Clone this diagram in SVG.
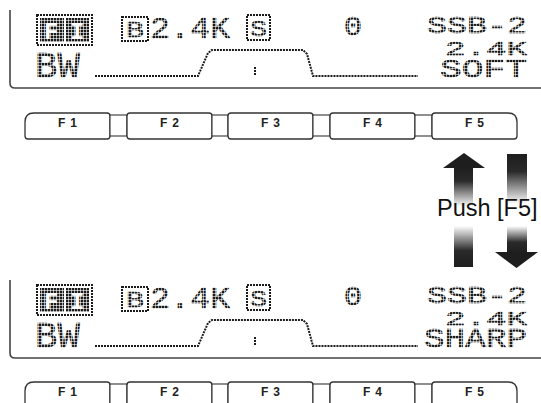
<svg xmlns="http://www.w3.org/2000/svg" width="541" height="403" viewBox="0 0 541 403">
<defs>
<pattern id="dots" width="3" height="3" patternUnits="userSpaceOnUse"><rect x="0" y="0" width="2.4" height="2.4" fill="#1a1a1a"/></pattern>
<linearGradient id="fadeDown" x1="0" y1="0" x2="0" y2="1"><stop offset="0" stop-color="#1e1e1e"/><stop offset="0.35" stop-color="#2a2a2a"/><stop offset="1" stop-color="#fff"/></linearGradient>
<linearGradient id="fadeUp" x1="0" y1="0" x2="0" y2="1"><stop offset="0" stop-color="#fff"/><stop offset="0.6" stop-color="#2a2a2a"/><stop offset="1" stop-color="#1e1e1e"/></linearGradient>
<style>
.frame{fill:none;stroke:#444;stroke-width:1.6}
.lcd{font-family:"Liberation Mono","DejaVu Sans Mono",monospace;font-weight:normal;fill:url(#dots);stroke:url(#dots);stroke-width:0.6}
.dotline{fill:none;stroke:#1a1a1a;stroke-width:2;stroke-dasharray:2 1}
.dotbox{fill:none;stroke:#1a1a1a;stroke-width:2;stroke-dasharray:2 1}
.key{fill:#fff;stroke:#333;stroke-width:1.3}
.link{fill:#fff;stroke:#333;stroke-width:1.1}
.klabel{font-family:"Liberation Sans",Arial,sans-serif;font-weight:bold;font-size:12px;fill:#222;letter-spacing:5px;text-anchor:middle}
.push{font-family:"Liberation Sans",Arial,sans-serif;font-size:23.5px;fill:#111}
</style>
<g id="lcd">
<path class="frame" d="M10,10 L10,83 Q10,88 15,88 L541,88"/>
<rect class="dotbox" x="37" y="15" width="55" height="30"/>
<rect x="40" y="18" width="24" height="24" fill="url(#dots)"/>
<rect x="66" y="18" width="23" height="24" fill="url(#dots)"/>
<text x="44" y="39" font-family="Liberation Mono,monospace" font-weight="bold" font-size="24" fill="#fff">F</text>
<text x="70" y="39" font-family="Liberation Mono,monospace" font-weight="bold" font-size="24" fill="#fff">I</text>
<rect class="dotbox" x="122" y="17" width="26" height="24"/>
<text class="lcd" x="126" y="37" font-size="22" textLength="18" lengthAdjust="spacingAndGlyphs">B</text>
<text class="lcd" x="150" y="38" font-size="30" textLength="80" lengthAdjust="spacingAndGlyphs">2.4K</text>
<rect class="dotbox" x="247" y="15" width="23" height="25"/>
<text class="lcd" x="250" y="36" font-size="22" textLength="17" lengthAdjust="spacingAndGlyphs">S</text>
<text class="lcd" x="344" y="35" font-size="28" textLength="18" lengthAdjust="spacingAndGlyphs">0</text>
<text class="lcd" x="427" y="33" font-size="24" textLength="100" lengthAdjust="spacingAndGlyphs">SSB-2</text>
<text class="lcd" x="445" y="55" font-size="20" textLength="82" lengthAdjust="spacingAndGlyphs">2.4K</text>
<text class="lcd" x="35" y="77" font-size="36" textLength="45" lengthAdjust="spacingAndGlyphs">BW</text>
<path class="dotline" d="M95,76 L198,76 L208,53 L212,50 L303,50 L307,54 L313,76 L418,76"/>
<path class="dotline" d="M255,67 L255,76"/>
</g>
<g id="keys">
<path class="key" d="M28,139 Q25,139 25,136 L25,122 Q25,113 34,113 L107,113 Q110,113 110,116 L110,136 Q110,139 107,139 Z"/>
<rect class="link" x="110" y="115" width="17" height="21"/>
<rect class="key" x="127" y="113" width="85" height="26" rx="3"/>
<rect class="link" x="212" y="115" width="16" height="21"/>
<rect class="key" x="228" y="113" width="85" height="26" rx="3"/>
<rect class="link" x="313" y="115" width="17" height="21"/>
<rect class="key" x="330" y="113" width="85" height="26" rx="3"/>
<rect class="link" x="415" y="115" width="17" height="21"/>
<path class="key" d="M435,139 Q432,139 432,136 L432,116 Q432,113 435,113 L508,113 Q517,113 517,122 L517,136 Q517,139 514,139 Z"/>
<text class="klabel" x="70" y="127">F1</text>
<text class="klabel" x="172" y="127">F2</text>
<text class="klabel" x="273" y="127">F3</text>
<text class="klabel" x="375" y="127">F4</text>
<text class="klabel" x="477" y="127">F5</text>
</g>
</defs>
<rect width="541" height="403" fill="#fff"/>
<g id="display-soft">
<use href="#lcd"/>
<text class="lcd" x="440" y="77" font-size="25" textLength="87" lengthAdjust="spacingAndGlyphs">SOFT</text>
</g>
<g id="keys-top"><use href="#keys"/></g>
<g id="connectors">
<polygon points="443,168 464,153 485,168" fill="#1e1e1e"/>
<rect x="454" y="167" width="19" height="40" fill="url(#fadeDown)"/>
<rect x="507" y="154" width="20" height="50" fill="url(#fadeDown)"/>
<rect x="454" y="226" width="19" height="41" fill="url(#fadeUp)"/>
<rect x="507" y="226" width="20" height="27" fill="url(#fadeUp)"/>
<polygon points="495,252 538,252 516.5,268" fill="#1e1e1e"/>
</g>
<g id="push-label"><text class="push" x="437" y="216">Push [F5]</text></g>
<g id="display-sharp" transform="translate(0,270)">
<use href="#lcd"/>
<text class="lcd" x="424" y="77" font-size="27" textLength="103" lengthAdjust="spacingAndGlyphs">SHARP</text>
</g>
<g id="keys-bottom" transform="translate(0,269)"><use href="#keys"/></g>
</svg>
